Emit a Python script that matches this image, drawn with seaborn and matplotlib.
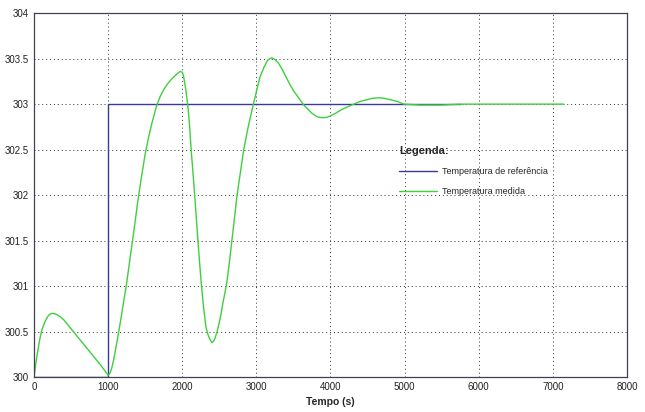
import matplotlib
matplotlib.use("Agg")
import matplotlib.pyplot as plt
import seaborn as sns
import pandas as pd

# Temperatura de referência (degrau em t = 1000 s)
t_ref = [0, 1000, 1000, 5750]
temp_ref = [300.0, 300.0, 303.0, 303.0]

# Temperatura medida
t_med = [0, 25, 50, 75, 100, 125, 150, 175, 200, 225, 250, 300, 350, 400, 500,
         600, 700, 800, 900, 1000,
         1025, 1050, 1075, 1100, 1125, 1150, 1175, 1200, 1250, 1300, 1350, 1400,
         1450, 1500, 1550, 1600, 1650, 1700, 1750, 1800, 1850, 1900, 1940, 1975,
         2000, 2015, 2030, 2050, 2080, 2100, 2120, 2140, 2170, 2190, 2210, 2235,
         2260, 2290, 2320, 2345, 2370, 2400, 2420, 2440, 2470, 2500, 2525, 2550,
         2575, 2600, 2635, 2670, 2705, 2740, 2785, 2830, 2890, 2960, 3010, 3050,
         3100, 3150, 3180, 3210, 3250, 3300, 3350, 3400, 3450, 3500, 3570, 3640,
         3700, 3750, 3820, 3890, 3950, 4000, 4070, 4150, 4230, 4315, 4400, 4500,
         4570, 4650, 4720, 4800, 4900, 4990, 5100, 5200, 5500, 5750, 7150]
temp_med = [300.0, 300.15, 300.28, 300.4, 300.5, 300.56, 300.61, 300.65, 300.68,
            300.695, 300.70, 300.69, 300.665, 300.63, 300.53, 300.43, 300.33,
            300.23, 300.13, 300.02,
            300.04, 300.1, 300.19, 300.3, 300.41, 300.53, 300.65, 300.78, 301.03,
            301.33, 301.62, 301.93, 302.2, 302.45, 302.65, 302.82, 302.97, 303.08,
            303.16, 303.22, 303.27, 303.31, 303.34, 303.36,
            303.35, 303.32, 303.25, 303.15, 302.95, 302.75, 302.5, 302.3, 301.98,
            301.75, 301.52, 301.25, 301.0, 300.75, 300.55, 300.47, 300.42, 300.38,
            300.39, 300.42, 300.5, 300.6, 300.7, 300.82, 300.92, 301.03, 301.25,
            301.5, 301.75, 302.0, 302.25, 302.5, 302.75, 303.0, 303.17, 303.3,
            303.4, 303.48, 303.5, 303.51, 303.49, 303.45, 303.38, 303.3, 303.22,
            303.15, 303.07, 302.99, 302.94, 302.9, 302.86, 302.85, 302.855,
            302.87, 302.9, 302.94, 302.97, 303.0, 303.03, 303.05, 303.065, 303.07,
            303.065, 303.05, 303.03, 303.0, 302.995, 302.99, 302.99, 303.0, 303.0]

x_ticks = [0, 1000, 2000, 3000, 4000, 5000, 6000, 7000, 8000]
y_ticks = [300, 300.5, 301, 301.5, 302, 302.5, 303, 303.5, 304]

sns.set_style("white")
plt.rcParams['font.family'] = ['Liberation Sans Narrow', 'Liberation Sans', 'DejaVu Sans']

ref = pd.DataFrame({"t": t_ref, "T": temp_ref})
med = pd.DataFrame({"t": t_med, "T": temp_med})

fig = plt.figure(figsize=(6.45, 4.12), dpi=100)
ax = fig.add_axes([0.0527, 0.085, 0.9193, 0.883])

sns.lineplot(data=ref, x="t", y="T", estimator=None, sort=False, ax=ax,
             color="#3a3a9a", linewidth=1.0, label="Temperatura de referência")
sns.lineplot(data=med, x="t", y="T", estimator=None, sort=False, ax=ax,
             color="#3ecf3e", linewidth=1.0, label="Temperatura medida")

ax.set_xlim(0, 8000)
ax.set_ylim(300, 304)
ax.set_xticks(x_ticks)
ax.set_yticks(y_ticks)
ax.set_xticklabels([str(v) for v in x_ticks])
ax.set_yticklabels(['300', '300.5', '301', '301.5', '302', '302.5', '303', '303.5', '304'])
ax.tick_params(labelsize=7, length=3, direction='in', colors='#222222')
ax.grid(True, linestyle=(0, (1, 3)), color='#333333', linewidth=0.7)
for s in ax.spines.values():
    s.set_color('#404050')
    s.set_linewidth(0.9)

ax.set_xlabel('Tempo (s)', fontsize=7.5, fontweight='bold')
ax.set_ylabel('')

leg = ax.legend(loc='upper left', bbox_to_anchor=(0.602, 0.657), frameon=False,
                fontsize=6.5, title='Legenda:', alignment='left',
                handlelength=4.2, handletextpad=0.6, labelspacing=1.2)
leg.get_title().set_fontweight('bold')
leg.get_title().set_fontsize(8)

fig.savefig('out.png', dpi=100)
